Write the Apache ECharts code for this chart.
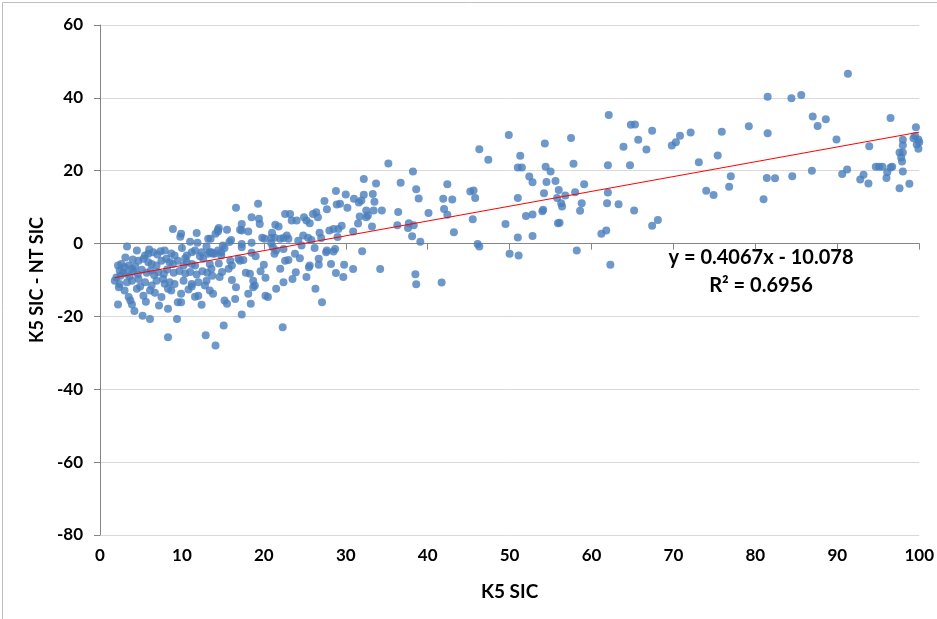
<!DOCTYPE html>
<html>
<head>
<meta charset="utf-8">
<script src="https://cdn.jsdelivr.net/npm/echarts@6/dist/echarts.min.js"></script>
<style>
  html, body { margin: 0; padding: 0; background: #fff; }
  #chart { width: 937px; height: 619px; }
</style>
</head>
<body>
<div id="chart"></div>
<script>
// K5 SIC vs (K5 SIC - NT SIC), grouped by x range
const pointsLow = [
  [2.2,-6.0],[2.6,-5.6],[3.0,-6.5],[3.5,-6.0],[3.9,-6.9],[4.3,-6.3],[2.4,-7.4],[2.8,-7.9],
  [4.7,-4.7],[5.3,-4.2],[5.9,-5.1],[6.3,-5.6],[6.9,-6.0],[7.5,-4.7],[8.1,-4.2],[8.5,-5.1],
  [8.9,-5.6],[9.5,-4.7],[10.2,-6.0],[10.6,-5.1],[11.2,-5.6],[11.6,-6.0],[12.6,-4.2],
  [1.8,-10.2],[2.4,-11.1],[3.3,-10.6],[3.9,-10.2],[4.7,-9.7],[5.5,-10.6],[6.3,-11.5],[6.9,-10.2],
  [7.7,-9.7],[8.5,-10.6],[9.1,-11.1],[10.2,-10.2],[11.2,-11.1],[12.0,-10.6],[13.0,-10.2],
  [3.0,-12.9],[3.5,-14.7],[3.7,-15.6],[5.3,-14.3],[4.5,-12.4],[6.1,-12.9],[7.5,-14.7],[8.3,-12.4],
  [8.7,-12.9],[9.9,-13.8],[11.2,-11.8],[12.0,-14.3],[12.8,-11.5],[13.4,-12.9],[13.8,-13.8],
  [2.2,-16.7],[3.9,-16.7],[7.2,-17.0],[8.3,-17.9],[9.5,-16.1],[9.9,-16.1],[5.2,-19.8],[6.1,-20.7],
  [9.4,-20.7],[8.3,-25.7],[12.9,-25.2],[14.1,-28.0],
  [3.3,-0.8],[4.5,-1.9],[5.9,-2.8],[6.5,-2.4],[5.5,-3.3],[7.9,-1.9],[8.7,-2.7],[9.1,-3.3],
  [10.6,-3.3],[11.2,-2.4],[11.6,-1.9],[12.4,-2.4],[13.2,-2.8],[13.6,-2.4],[14.0,-2.7],[14.8,-3.3],
  [8.9,4.0],[9.9,2.7],[9.8,1.9],[11.8,2.9],[11.0,0.5],[11.9,0.2],[13.2,1.3],[14.1,2.7],[14.4,3.8],
  [2.5,-8.8],[3.2,-8.2],[3.6,-9.0],[4.1,-7.6],[4.6,-8.4],[5.1,-7.2],[5.7,-8.0],[6.2,-7.4],
  [6.6,-8.6],[7.1,-7.9],[7.8,-8.3],[8.2,-7.1],[9.0,-8.0],[9.7,-7.5],[10.4,-8.2],[11.0,-7.8],
  [11.8,-8.5],[12.5,-7.6],[13.1,-8.0],[3.1,-3.8],[4.0,-4.4],[6.0,-1.6],[7.0,-3.0],[7.4,-2.1],
  [10.0,-1.2],[10.4,-4.0],[12.2,-3.5],[13.0,-0.8],[14.5,-5.5],[14.9,-7.8],[2.0,-9.3],[2.3,-12.0],
  [4.9,-11.8],[6.7,-13.5],[7.9,-11.0],[10.8,-12.6],[11.6,-14.6],[12.4,-16.8],[5.6,-16.0],[4.2,-18.5]
];
const pointsMid = [
  [13.5,1.3],[15.8,0.4],[15.0,-0.5],[14.4,-1.9],[14.8,-2.4],[13.4,-2.4],[13.8,-2.8],
  [17.3,-0.1],[17.3,-1.0],[18.5,-2.5],[16.9,-4.2],[17.1,-4.7],[17.5,-4.5],
  [21.1,-1.0],[21.5,-1.9],[21.3,-2.8],[22.4,-1.5],[22.6,-4.7],[20.9,0.1],
  [24.4,-4.0],[25.6,-6.0],[25.5,-6.5],[26.7,-4.2],[26.7,-5.8],[27.6,-2.4],[27.7,-1.9],[28.7,-1.5],
  [29.8,-5.8],[30.9,-7.0],[13.4,-5.6],[13.6,-6.9],[13.7,-8.8],[14.6,-9.2],[15.9,-4.7],[16.1,-6.0],[15.7,-6.9],
  [16.1,-10.0],[16.6,-12.0],[16.5,-15.2],[15.2,-15.6],[15.5,-16.5],[18.3,-8.3],[18.7,-10.2],[18.9,-11.5],
  [18.7,-12.0],[18.1,-13.8],[18.4,-16.5],[20.2,-9.4],[20.2,-14.3],[20.5,-14.7],[22.0,-6.9],[22.4,-10.6],
  [21.5,-12.4],[23.5,-9.7],[23.9,-7.9],[25.2,-9.2],[26.3,-12.4],[27.1,-16.1],[28.2,-5.6],[28.8,-8.1],[29.7,-9.2],
  [17.3,-19.5],[15.1,-22.5],[22.3,-23.0],
  [14.4,3.3],[14.5,4.3],[15.5,3.8],[19.8,1.6],[20.1,1.3],[20.9,1.5],[21.3,1.6],[22.0,1.3],[22.4,1.5],
  [22.8,2.2],[23.0,1.3],[24.2,0.8],[24.8,2.2],[25.4,1.6],[25.8,1.0],[27.0,1.5],[28.0,3.6],[28.5,4.0],
  [29.1,4.0],[29.5,4.9],[30.9,3.3],[17.3,5.4],[17.3,3.6],[17.1,3.8],[18.1,3.3],[18.5,0.2],[21.4,5.2],[21.8,4.7],
  [22.6,8.1],[23.2,8.1],[23.4,6.3],[24.0,6.3],[24.9,7.2],[25.2,6.3],[25.6,5.6],[26.0,8.1],[26.4,8.6],[26.6,7.2],
  [18.5,7.2],[19.4,6.8],[19.5,5.4],[19.3,10.9],[16.6,9.8],
  [27.4,11.7],[27.7,9.4],[28.9,10.7],[29.3,10.9],[30.2,9.8],
  [28.8,14.4],[30.0,13.5],[32.2,13.4],[31.0,12.3],[31.6,11.3],[31.9,11.8],[32.2,17.7],
  [32.5,9.1],[32.7,7.7],[32.5,7.2],[33.4,9.1],[34.4,9.1],[33.2,4.7],[31.7,7.4],[32.0,-2.1],[34.2,-7.0],
  [33.7,16.5],[33.3,13.6],[33.5,11.5],
  [16.0,1.0],[19.0,-3.5],[20.0,-5.8],[23.8,-2.8],[24.6,-0.5],[26.2,-1.2],[19.6,-7.6],[17.8,-8.0],
  [21.0,3.0],[26.8,3.0],[29.0,1.8],[31.5,5.5],[23.0,-4.5],[15.2,-1.2],[28.5,-2.2]
];
const pointsUpper = [
  [35.2,22.0],[38.2,19.8],[36.7,16.7],[38.6,14.9],[38.9,12.4],[42.4,16.3],[41.9,12.3],[43.0,12.1],
  [45.2,14.3],[45.6,14.6],[45.8,12.5],[36.4,8.7],[36.3,5.0],[37.7,5.6],[37.6,4.3],[38.3,5.0],
  [38.1,2.0],[39.1,0.5],[40.1,8.4],[42.0,9.5],[42.4,7.9],[43.2,3.1],[45.5,6.7],
  [38.5,-8.4],[38.6,-11.2],[41.7,-10.7],
  [49.9,29.8],[54.3,27.5],[46.3,25.9],[47.4,23.0],[51.3,24.1],[51.0,20.9],[51.5,20.9],[54.4,21.1],
  [55.0,19.8],[54.5,16.9],[55.6,17.2],[52.4,18.4],[52.8,16.8],[54.2,13.8],[51.0,12.5],[54.0,8.9],
  [54.1,9.3],[52.0,7.6],[52.8,8.0],[49.5,5.4],[51.0,1.7],[52.8,2.1],[55.9,5.6],[46.1,-0.1],
  [46.3,-0.8],[50.0,-2.8],[51.1,-3.3],
  [57.5,29.0],[57.8,21.9],[56.0,14.7],[55.8,12.5],[56.3,11.1],[56.4,10.2],[56.8,13.2],[58.0,14.1],
  [59.1,16.3],[58.8,11.1],[58.6,9.0],[56.1,5.7],[58.2,-1.9]
];
const pointsHigh = [
  [62.1,35.3],[64.8,32.6],[65.3,32.7],[67.4,31.0],[65.7,28.5],[63.9,26.6],[66.7,25.8],[69.8,26.9],
  [70.3,27.8],[70.8,29.6],[72.1,30.5],[75.9,30.7],[79.2,32.2],
  [62.0,21.5],[64.7,21.5],[73.1,22.3],[75.4,24.2],[77.0,18.5],[76.8,15.6],[74.0,14.5],[74.9,13.3],
  [62.0,14.0],[61.9,11.1],[63.3,10.8],[65.2,9.1],[61.2,2.7],[61.8,3.6],[67.4,4.9],[68.1,6.5],[62.3,-5.8],
  [91.3,46.6],[81.5,40.3],[84.4,39.9],[85.6,40.8],[81.5,30.3],[87.0,34.9],[87.6,32.3],[88.6,34.1],
  [89.9,28.6],[96.5,34.5],[93.9,26.7],[99.6,31.9],
  [99.5,29.5],[99.9,28.6],[100,27.8],[99.7,27.2],[99.9,26.0],[99.3,28.9],
  [98.0,28.5],[98.0,27.0],[98.0,25.0],[97.6,25.0],[97.8,23.6],[97.9,22.5],
  [96.7,21.1],[96.1,19.6],[96.0,18.0],[98.0,19.8],[94.7,21.1],[95.1,21.1],[95.5,21.1],[96.5,20.9],
  [97.6,15.2],[98.8,16.4],[93.2,18.9],[92.8,17.6],[93.8,16.5],[90.6,19.1],[91.2,20.3],[86.9,20.0],
  [84.5,18.5],[81.4,18.0],[82.4,17.9],[81.0,12.2]
];

// linear trendline as printed on the chart
const slope = 0.4067;
const intercept = -10.078;
const trendX = [1.8, 100];
const eqText = 'y = 0.4067x - 10.078';
const r2Text = 'R² = 0.6956';

const allPoints = pointsLow.concat(pointsMid, pointsUpper, pointsHigh);
const trendData = trendX.map(x => [x, slope * x + intercept]);

const fontFam = 'Lato, "Open Sans", sans-serif';

let chart = echarts.init(document.getElementById('chart'));
let option = {
  backgroundColor: '#fff',
  animation: false,
  grid: { left: 100, right: 17, top: 25, bottom: 84 },
  xAxis: {
    type: 'value',
    min: 0, max: 100, interval: 10,
    name: 'K5 SIC',
    nameLocation: 'middle',
    nameGap: 47,
    nameTextStyle: { fontFamily: fontFam, fontWeight: 'bold', fontSize: 19, color: '#000' },
    axisLine: { show: true, lineStyle: { color: '#868686', width: 1 } },
    axisTick: { show: true, inside: false, length: 6, lineStyle: { color: '#868686' } },
    axisLabel: { margin: 12, fontFamily: fontFam, fontWeight: 'bold', fontSize: 17, color: '#000' },
    splitLine: { show: false }
  },
  yAxis: {
    type: 'value',
    min: -80, max: 60, interval: 20,
    name: 'K5 SIC - NT SIC',
    nameLocation: 'middle',
    nameGap: 48,
    nameTextStyle: { fontFamily: fontFam, fontWeight: 'bold', fontSize: 18, color: '#000' },
    axisLine: { show: true, lineStyle: { color: '#868686', width: 1 } },
    axisTick: { show: true, inside: false, length: 6, lineStyle: { color: '#868686' } },
    axisLabel: { margin: 17, fontFamily: fontFam, fontWeight: 'bold', fontSize: 17, color: '#000' },
    splitLine: { show: true, lineStyle: { color: '#d9d9d9', width: 1 } }
  },
  series: [
    {
      type: 'scatter',
      data: allPoints,
      symbol: 'circle',
      symbolSize: 8,
      itemStyle: { color: '#4a7ebb' },
      z: 2
    },
    {
      type: 'line',
      data: trendData,
      symbol: 'none',
      lineStyle: { color: '#ff0000', width: 1 },
      z: 3
    }
  ],
  graphic: [
    {
      type: 'rect',
      left: 0, top: 0,
      shape: { width: 936, height: 618 },
      style: { fill: 'none', stroke: '#bfbfbf', lineWidth: 1 },
      silent: true
    },
    {
      type: 'text',
      x: 761, y: 258,
      style: { text: eqText, fontFamily: fontFam, fontWeight: 'bold', fontSize: 20, fill: '#000', textAlign: 'center', textVerticalAlign: 'middle' }
    },
    {
      type: 'text',
      x: 761, y: 286,
      style: { text: r2Text, fontFamily: fontFam, fontWeight: 'bold', fontSize: 20, fill: '#000', textAlign: 'center', textVerticalAlign: 'middle' }
    }
  ]
};
chart.setOption(option);
</script>
</body>
</html>
